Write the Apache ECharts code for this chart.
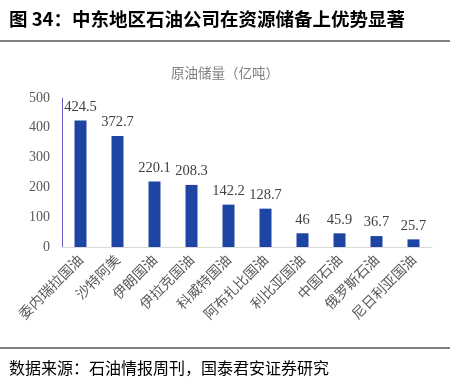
<!DOCTYPE html>
<html>
<head>
<meta charset="utf-8">
<script src="https://cdn.jsdelivr.net/npm/echarts@6/dist/echarts.min.js"></script>
<style>
  html, body { margin: 0; padding: 0; background: #fff; }
  #chart { width: 450px; height: 378px; }
</style>
</head>
<body>
<div id="chart"></div>
<script>
// 原油储量（亿吨）
const companies = ['委内瑞拉国油', '沙特阿美', '伊朗国油', '伊拉克国油', '科威特国油',
  '阿布扎比国油', '利比亚国油', '中国石油', '俄罗斯石油', '尼日利亚国油'];
const reserves = [424.5, 372.7, 220.1, 208.3, 142.2, 128.7, 46, 45.9, 36.7, 25.7];

const chart = echarts.init(document.getElementById('chart'));
chart.setOption({
  animation: false,
  backgroundColor: '#fff',
  title: [
    {
      text: '图 34：中东地区石油公司在资源储备上优势显著',
      left: 4, top: 5,
      textStyle: { fontSize: 18.5, fontWeight: 'bold', color: '#000', fontFamily: 'Noto Sans CJK SC' }
    },
    {
      text: '原油储量（亿吨）',
      left: 'center', top: 61,
      textStyle: { fontSize: 13.5, fontWeight: 'normal', color: '#7f7f7f', fontFamily: 'Noto Sans CJK SC' }
    },
    {
      text: '数据来源：石油情报周刊，国泰君安证券研究',
      left: 4, top: 355,
      textStyle: { fontSize: 16, fontWeight: 'normal', color: '#000', fontFamily: 'Noto Sans CJK SC' }
    }
  ],
  graphic: [
    { type: 'line', shape: { x1: 0, y1: 41, x2: 450, y2: 41 }, style: { stroke: '#000', lineWidth: 1 } },
    { type: 'line', shape: { x1: 0, y1: 348, x2: 450, y2: 348 }, style: { stroke: '#000', lineWidth: 1 } }
  ],
  grid: { left: 62, right: 18, top: 98, bottom: 131 },
  xAxis: {
    type: 'category',
    data: companies,
    axisLine: { lineStyle: { color: '#d9d9d9', width: 1 } },
    axisTick: { show: false },
    axisLabel: {
      rotate: 45, interval: 0, margin: 10,
      fontSize: 14, color: '#595959', fontFamily: 'Noto Sans CJK SC'
    }
  },
  yAxis: {
    type: 'value',
    min: 0, max: 500, interval: 100,
    axisLine: { show: true, lineStyle: { color: '#6f5cc4', width: 1 } },
    axisTick: { show: false },
    splitLine: { show: false },
    axisLabel: { fontSize: 14, color: '#595959', fontFamily: 'Liberation Serif', margin: 12 }
  },
  series: [{
    type: 'bar',
    data: reserves,
    barWidth: 12,
    itemStyle: { color: '#1f45a4' },
    label: {
      show: true, position: 'top', distance: 6,
      fontSize: 14.5, color: '#404040', fontFamily: 'Liberation Serif'
    }
  }]
});
</script>
</body>
</html>
